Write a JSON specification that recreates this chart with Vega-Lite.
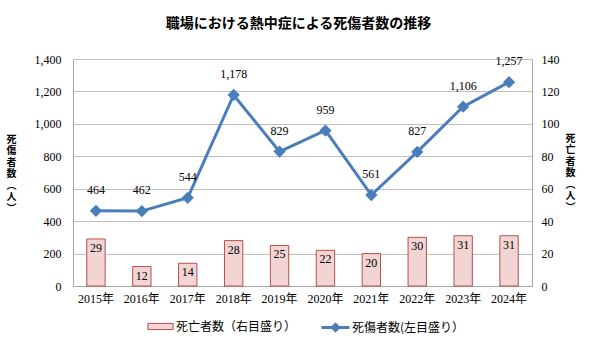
{
  "$schema": "https://vega.github.io/schema/vega-lite/v6.json",
  "width": 459,
  "height": 227,
  "autosize": {"type": "none"},
  "padding": {"left": 73, "top": 59, "right": 64, "bottom": 72},
  "background": "white",
  "title": {
    "text": "職場における熱中症による死傷者数の推移",
    "font": "Noto Sans CJK JP",
    "fontSize": 14,
    "fontWeight": "bold",
    "color": "#000000",
    "anchor": "middle",
    "offset": 22,
    "dx": -4
  },
  "data": {
    "values": [
      {"year": "2015年", "deaths": 29, "casualties": 464},
      {"year": "2016年", "deaths": 12, "casualties": 462},
      {"year": "2017年", "deaths": 14, "casualties": 544},
      {"year": "2018年", "deaths": 28, "casualties": 1178},
      {"year": "2019年", "deaths": 25, "casualties": 829},
      {"year": "2020年", "deaths": 22, "casualties": 959},
      {"year": "2021年", "deaths": 20, "casualties": 561},
      {"year": "2022年", "deaths": 30, "casualties": 827},
      {"year": "2023年", "deaths": 31, "casualties": 1106},
      {"year": "2024年", "deaths": 31, "casualties": 1257}
    ]
  },
  "encoding": {
    "x": {
      "field": "year",
      "type": "nominal",
      "sort": null,
      "scale": {"paddingInner": 0, "paddingOuter": 0},
      "axis": {
        "title": null,
        "labelAngle": 0,
        "ticks": false,
        "domainColor": "#a6a6a6",
        "labelPadding": 7,
        "labelFont": "Liberation Serif, Noto Sans CJK JP",
        "labelFontSize": 12,
        "labelColor": "#000000",
        "grid": false
      }
    }
  },
  "layer": [
    {
      "encoding": {
        "y": {
          "field": "deaths",
          "type": "quantitative",
          "scale": {"domain": [0, 140], "nice": false},
          "axis": {
            "orient": "right",
            "values": [0, 20, 40, 60, 80, 100, 120, 140],
            "format": "d",
            "grid": false,
            "ticks": false,
            "domainColor": "#a6a6a6",
            "labelPadding": 9,
            "labelFont": "Liberation Serif",
            "labelFontSize": 12,
            "labelColor": "#000000",
            "title": ["死", "亡", "者", "数", "︵", "人", "︶"],
            "titleFont": "Noto Sans CJK JP",
            "titleFontSize": 10,
            "titleFontWeight": "bold",
            "titleColor": "#000000",
            "titleAngle": 0,
            "titleAlign": "center",
            "titleBaseline": "middle",
            "titleLineHeight": 11.5,
            "titleX": 38,
            "titleY": 79
          }
        }
      },
      "layer": [
        {
          "mark": {"type": "bar", "width": {"band": 0.4}, "stroke": "#b9504c", "strokeWidth": 1},
          "encoding": {
            "fill": {
              "datum": "死亡者数（右目盛り）",
              "type": "nominal",
              "scale": {"range": ["#f1d4d3"]},
              "legend": {
                "orient": "none",
                "legendX": 73,
                "legendY": 253,
                "title": null,
                "padding": 0,
                "symbolType": "M-0.9,-0.22H0.9V0.22H-0.9Z",
                "symbolSize": 784,
                "symbolStrokeColor": "#b9504c",
                "symbolStrokeWidth": 1,
                "labelFont": "Noto Sans CJK JP",
                "labelFontSize": 12,
                "labelColor": "#000000",
                "labelOffset": 1
              }
            }
          }
        },
        {
          "mark": {"type": "text", "baseline": "top", "dy": 4, "font": "Liberation Serif", "fontSize": 12, "color": "#000000"},
          "encoding": {"text": {"field": "deaths", "type": "quantitative"}}
        }
      ]
    },
    {
      "encoding": {
        "y": {
          "field": "casualties",
          "type": "quantitative",
          "scale": {"domain": [0, 1400], "nice": false},
          "axis": {
            "orient": "left",
            "values": [0, 200, 400, 600, 800, 1000, 1200, 1400],
            "format": ",d",
            "grid": true,
            "gridColor": "#bfbfbf",
            "ticks": false,
            "domainColor": "#a6a6a6",
            "labelPadding": 12,
            "labelFont": "Liberation Serif",
            "labelFontSize": 12,
            "labelColor": "#000000",
            "title": ["死", "傷", "者", "数", "︵", "人", "︶"],
            "titleFont": "Noto Sans CJK JP",
            "titleFontSize": 10,
            "titleFontWeight": "bold",
            "titleColor": "#000000",
            "titleAngle": 0,
            "titleAlign": "center",
            "titleBaseline": "middle",
            "titleLineHeight": 11.5,
            "titleX": -62,
            "titleY": 80
          }
        }
      },
      "layer": [
        {
          "mark": {"type": "line", "strokeWidth": 3},
          "encoding": {
            "stroke": {
              "datum": "死傷者数(左目盛り）",
              "type": "nominal",
              "scale": {"range": ["#4a7ebb"]},
              "legend": {
                "orient": "none",
                "legendX": 247,
                "legendY": 253,
                "title": null,
                "padding": 0,
                "symbolType": "M-1,0H1M0,-0.22L0.22,0L0,0.22L-0.22,0Z",
                "symbolSize": 784,
                "symbolFillColor": "#4a7ebb",
                "symbolStrokeWidth": 3,
                "labelFont": "Noto Sans CJK JP",
                "labelFontSize": 12,
                "labelColor": "#000000",
                "labelOffset": 1
              }
            }
          }
        },
        {
          "mark": {"type": "point", "shape": "diamond", "filled": true, "size": 150, "color": "#4a7ebb", "opacity": 1}
        },
        {
          "mark": {"type": "text", "baseline": "middle", "dy": -21, "font": "Liberation Serif", "fontSize": 12, "color": "#000000"},
          "encoding": {"text": {"field": "casualties", "type": "quantitative", "format": ",d"}}
        }
      ]
    }
  ],
  "resolve": {"scale": {"y": "independent"}},
  "config": {
    "view": {"stroke": null}
  }
}
